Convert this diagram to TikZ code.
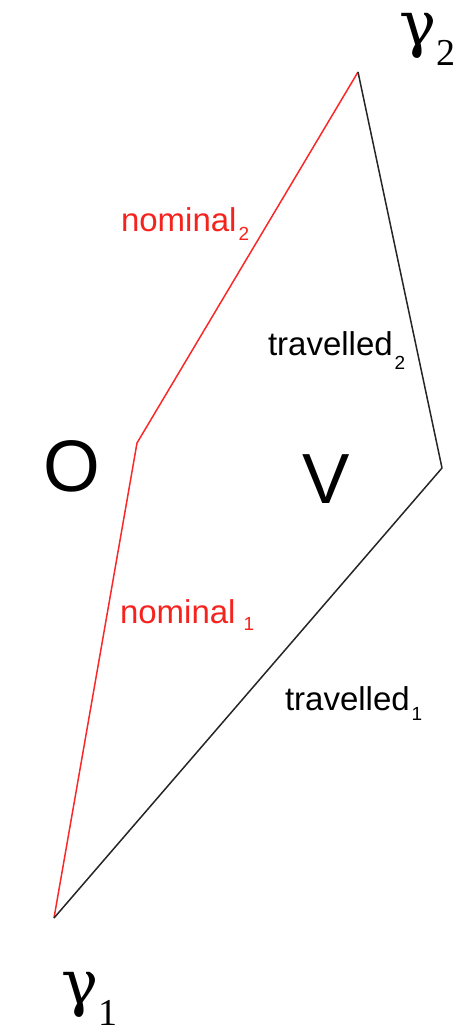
\documentclass[tikz,border=0pt]{standalone}
\usepackage{fontspec}
\setmainfont{Liberation Sans}
\newfontfamily\gfont{DejaVu Serif}
\newfontfamily\subfont{Liberation Serif}
\definecolor{labred}{RGB}{245,35,30}
\definecolor{linered}{RGB}{250,40,40}
\begin{document}
\begin{tikzpicture}[x=1pt,y=-1pt,
  lab/.style={inner sep=0pt,outer sep=0pt,anchor=base west,font=\fontsize{33}{33}\selectfont},
  big/.style={inner sep=0pt,outer sep=0pt,anchor=base west,font=\fontsize{73}{73}\selectfont},
  gam/.style={inner sep=0pt,outer sep=0pt,anchor=base west,font=\gfont\fontsize{62}{62}\selectfont},
  redline/.style={draw=linered,line width=1.5pt,line join=round},
  blackline/.style={draw=black!85,line width=1.5pt,line join=round}]
\useasboundingbox (0,0) rectangle (455,1032);
\coordinate (g1) at (54,918);
\coordinate (O) at (137,443);
\coordinate (g2) at (358,72);
\coordinate (V) at (442,468);
\draw[redline] (g1) -- (O) -- (g2);
\draw[blackline] (g2) -- (V) -- (g1);
\node[lab,text=labred] (n2) at (121,232) {nominal\hspace{2pt}\raisebox{-9pt}{\fontsize{19}{19}\selectfont 2}};
\node[lab] (t2) at (268,355) {travelled\hspace{2pt}\raisebox{-14pt}{\fontsize{19}{19}\selectfont 2}};
\node[lab,text=labred] (n1) at (120,623) {nominal\hspace{8pt}\raisebox{-7pt}{\fontsize{19}{19}\selectfont 1}};
\node[lab] (t1) at (285,710) {travelled\hspace{2pt}\raisebox{-10pt}{\fontsize{19}{19}\selectfont 1}};
\node[big] (Olab) at (43,491) {O};
\node[big,font=\fontsize{71}{71}\selectfont] (Vlab) at (302,503) {V};
\node[gam] (gam2) at (399,46) {γ\raisebox{-20pt}{\subfont\fontsize{38}{38}\selectfont 2}};
\node[gam] (gam1) at (61,1004) {γ\raisebox{-21pt}{\subfont\fontsize{38}{38}\selectfont 1}};
\end{tikzpicture}
\end{document}
